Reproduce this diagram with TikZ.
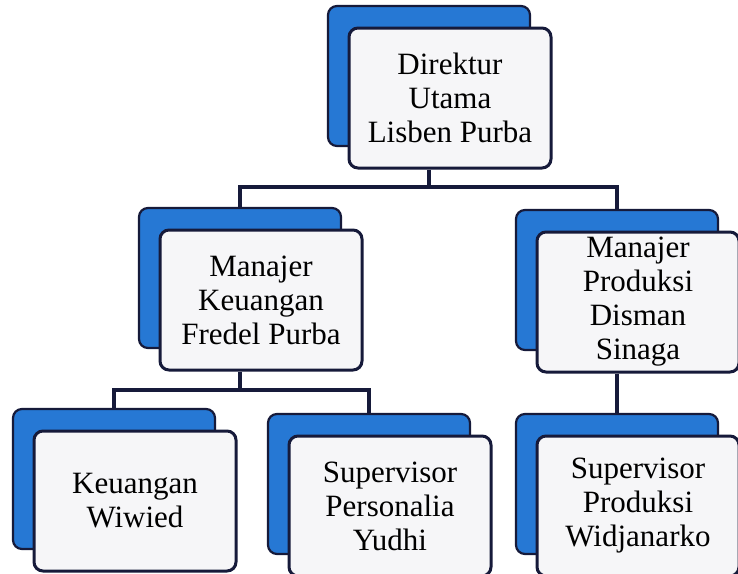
\documentclass[tikz,border=0pt]{standalone}
\usepackage{fontspec}
\setmainfont{Liberation Serif}
\definecolor{boxblue}{RGB}{38,120,212}
\definecolor{navy}{RGB}{22,26,58}
\definecolor{paper}{RGB}{246,246,248}

\begin{document}
\begin{tikzpicture}[x=1pt,y=-1pt,
	back/.style={draw=navy, line width=2.2pt, fill=boxblue, rounded corners=9pt, minimum width=202pt, minimum height=140pt},
	front/.style={draw=navy, line width=3pt, fill=paper, rounded corners=9pt, minimum width=202pt, minimum height=140pt, inner sep=0pt, align=center, font=\fontsize{31}{34}\selectfont},
	link/.style={draw=navy, line width=3.4pt}]
	%\draw[help lines] (0,0) grid[step=50] (738,573);
	\useasboundingbox[fill=white] (0,0) rectangle (738,573);
	% blue back cards
	\node[back] (dirb) at (429,76) {};
	\node[back] (mkb) at (240,278) {};
	\node[back] (mpb) at (617,280) {};
	\node[back] (kwb) at (114,479) {};
	\node[back] (spb) at (369,484) {};
	\node[back] (sprb) at (617,484) {};
	% white front cards
	\node[front] (dirw) at ([shift={(21,22)}]dirb.center) {Direktur\\Utama\\Lisben Purba};
	\node[front] (mkw) at ([shift={(21,22)}]mkb.center) {Manajer\\Keuangan\\Fredel Purba};
	\node[front] (mpw) at ([shift={(21,22)}]mpb.center) {Manajer\\Produksi\\Disman\\Sinaga};
	\node[front] (kww) at ([shift={(21,22)}]kwb.center) {Keuangan\\Wiwied};
	\node[front] (spw) at ([shift={(21,22)}]spb.center) {Supervisor\\Personalia\\Yudhi};
	\node[front] (sprw) at ([shift={(21,22)}]sprb.center) {Supervisor\\Produksi\\Widjanarko};
	% connectors
	\coordinate (bar1) at (429,187);
	\coordinate (bar2) at (240,390);
	\draw[link] (dirw.south -| dirb.center) -- (bar1);
	\draw[link] (mkb.north) |- (bar1) -| (mpb.north);
	\draw[link] (mkw.south -| mkb.center) -- (bar2);
	\draw[link] (kwb.north) |- (bar2) -| (spb.north);
	\draw[link] (mpw.south -| mpb.center) -- (sprb.north);
\end{tikzpicture}
\end{document}
